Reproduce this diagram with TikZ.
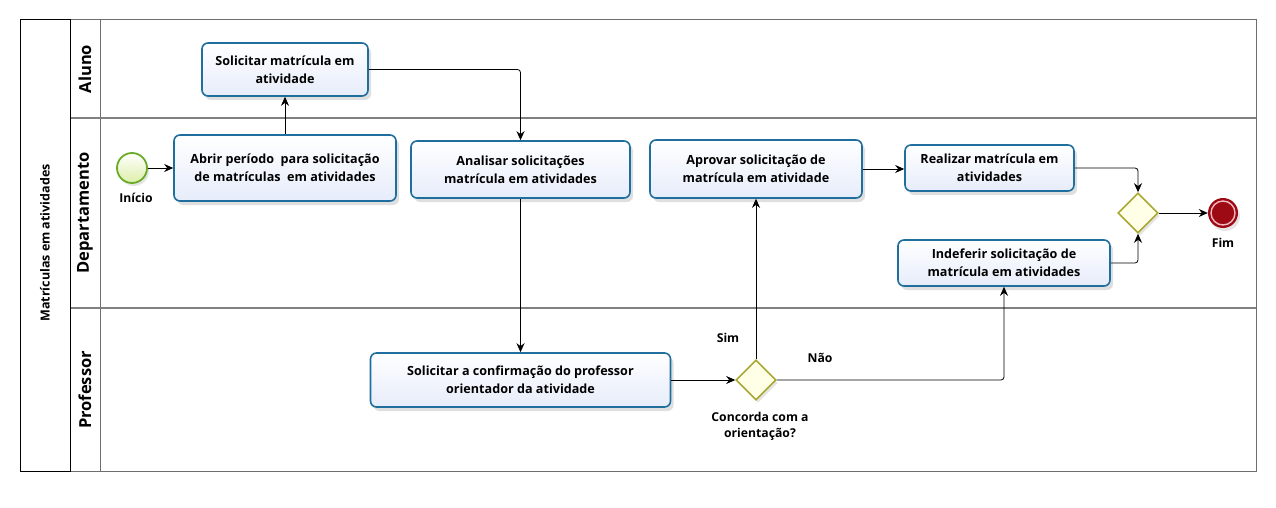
\documentclass[tikz,border=0pt]{standalone}
\usepackage{fontspec}
\setmainfont{Open Sans}
\usetikzlibrary{shapes.geometric,shadows,arrows.meta}
\definecolor{taskborder}{HTML}{1F6E9E}
\definecolor{taskfill}{HTML}{E6ECFA}
\definecolor{lanegray}{HTML}{6E6E6E}
\definecolor{divgray}{HTML}{808080}
\definecolor{gwborder}{HTML}{A8A832}
\definecolor{gwfill}{HTML}{FFFFE8}
\definecolor{stborder}{HTML}{6AAB2A}
\definecolor{stfill}{HTML}{DDEFA8}
\definecolor{endred}{HTML}{9E0A14}
\definecolor{endring}{HTML}{F2B8C0}
\begin{document}
\begin{tikzpicture}[x=1pt,y=-1pt,
  task/.style={draw=taskborder, line width=1.6pt, rounded corners=6pt, top color=white, bottom color=taskfill,
    align=center, inner sep=0pt, font=\fontsize{12.6}{18}\selectfont\bfseries,
    drop shadow={shadow xshift=3pt, shadow yshift=-4pt, opacity=0.25, fill=gray}},
  gateway/.style={diamond, aspect=1, draw=gwborder, fill=gwfill, line width=1.6pt, minimum size=40pt, inner sep=0pt,
    drop shadow={shadow xshift=2pt, shadow yshift=-3pt, opacity=0.2, fill=gray}},
  flow/.style={-{Stealth[length=9pt,width=8pt]}, line width=0.8pt, rounded corners=3pt},
  lbl/.style={font=\fontsize{12.2}{16}\selectfont\bfseries, align=center, inner sep=0pt},
  lanelbl/.style={font=\fontsize{16.5}{18}\selectfont\bfseries, rotate=90, inner sep=0pt},
  poollbl/.style={font=\fontsize{12.5}{14}\selectfont\bfseries, rotate=90, inner sep=0pt}]
\useasboundingbox (0,0) rectangle (1276,508);
\fill[white] (0,0) rectangle (1276,508);
% pool and lanes
\draw[lanegray, line width=1pt] (70,20) -- (70,471) (100,20) -- (100,471);
\draw[divgray, line width=2pt] (70,118) -- (1256,118) (70,308) -- (1256,308);
\draw[lanegray, line width=1pt] (70,20) -- (1256,20) -- (1256,471) -- (70,471);
\draw[black, line width=1pt] (20,20) rectangle (70,471);
\node[poollbl] (pool) at (45,243) {Matrículas em atividades};
\node[lanelbl] (laneA) at (85,69) {Aluno};
\node[lanelbl] (laneD) at (85,213) {Departamento};
\node[lanelbl] (laneP) at (85,390) {Professor};
% events
\node[circle, draw=stborder, line width=1.8pt, top color=white, bottom color=stfill, minimum size=30pt, inner sep=0pt,
  drop shadow={shadow xshift=2pt, shadow yshift=-3pt, opacity=0.2, fill=gray}] (start) at (132,168) {};
\node[lbl] (startl) at (136,198) {Início};
\node[circle, fill=endred, minimum size=30pt, inner sep=0pt,
  drop shadow={shadow xshift=2pt, shadow yshift=-3pt, opacity=0.2, fill=gray}] (end) at (1223,213) {};
\draw[endring, line width=1.4pt] (end.center) circle[radius=12pt];
\node[lbl] (endl) at (1223,243) {Fim};
% tasks
\node[task, minimum width=166pt, minimum height=53pt] (t1) at (285,69.5) {Solicitar matrícula em\\atividade};
\node[task, minimum width=222pt, minimum height=66pt] (t2) at (285,168) {Abrir período\ \ para solicitação\\de matrículas\ \ em atividades};
\node[task, minimum width=219pt, minimum height=57pt] (t3) at (520.5,169.5) {Analisar solicitações\\matrícula em atividades};
\node[task, minimum width=212pt, minimum height=58pt] (t4) at (756,169) {Aprovar solicitação de\\matrícula em atividade};
\node[task, minimum width=169pt, minimum height=46pt] (t5) at (989.5,168) {Realizar matrícula em\\atividades};
\node[task, minimum width=212pt, minimum height=46pt] (t6) at (1004,263) {Indeferir solicitação de\\matrícula em atividades};
\node[task, minimum width=300pt, minimum height=54pt] (t7) at (520.5,380) {Solicitar a confirmação do professor\\orientador da atividade};
% gateways
\node[gateway] (g1) at (756,380) {};
\node[gateway] (g2) at (1138,213) {};
\node[lbl] (g1l) at (760,426) {Concorda com a\\orientação?};
\node[lbl] (sim) at (728,338) {Sim};
\node[lbl] (nao) at (820,358) {Não};
% flows
\draw[flow] (start) -- (t2);
\draw[flow] (t2.north) -- (t1.south);
\draw[flow] (t1.east) -| (t3.north);
\draw[flow] (t3.south) -- (t7.north);
\draw[flow] (t7.east) -- (g1.west);
\draw[flow] (g1.north) -- (t4.south);
\draw[flow] (g1.east) -| (t6.south);
\draw[flow] (t4.east) -- (t4.east -| t5.west);
\draw[flow] (t5.east) -| (g2.north);
\draw[flow] (t6.east) -| (g2.south);
\draw[flow] (g2.east) -- (end.west);
\end{tikzpicture}
\end{document}
